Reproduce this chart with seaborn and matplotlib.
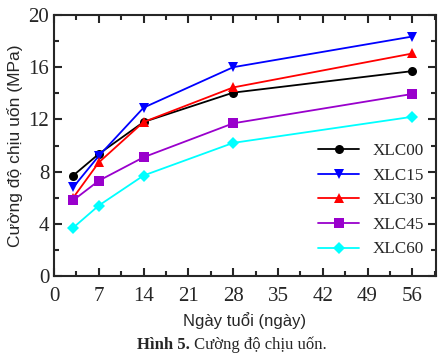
import numpy as np
import pandas as pd
import seaborn as sns
import matplotlib.pyplot as plt
from matplotlib.ticker import MultipleLocator

days = [3, 7, 14, 28, 56]
xlc00 = [7.7, 9.35, 11.8, 14.05, 15.7]
xlc15 = [6.8, 9.2, 12.9, 16.0, 18.35]
xlc30 = [6.0, 8.7, 11.8, 14.45, 17.05]
xlc45 = [5.8, 7.3, 9.1, 11.7, 13.95]
xlc60 = [3.7, 5.4, 7.7, 10.2, 12.2]

names = ['XLC00', 'XLC15', 'XLC30', 'XLC45', 'XLC60']
colors = ['black', '#0000ff', '#ff0000', '#9900cc', '#00ffff']
markers = ['o', 'v', '^', 's', 'D']

df = pd.DataFrame({
    'day': days * 5,
    'val': xlc00 + xlc15 + xlc30 + xlc45 + xlc60,
    'mix': [n for n in names for _ in days],
})

sns.set_style('ticks')
plt.rcParams['font.family'] = ['Liberation Serif', 'DejaVu Serif']

fig = plt.figure(figsize=(4.41, 3.58), dpi=100)
ax = fig.add_axes([54 / 441, 1 - 276 / 358, 382 / 441, 261 / 358])

sns.lineplot(data=df, x='day', y='val', hue='mix', style='mix',
             palette=dict(zip(names, colors)), markers=dict(zip(names, markers)),
             dashes=False, markersize=6.5, markeredgewidth=0, linewidth=1.3, ax=ax)

ax.set_xlim(0, 59.7)
ax.set_ylim(0, 20)
ax.xaxis.set_major_locator(MultipleLocator(7))
ax.xaxis.set_minor_locator(MultipleLocator(3.5))
ax.yaxis.set_major_locator(MultipleLocator(4))
ax.yaxis.set_minor_locator(MultipleLocator(2))
ax.tick_params(which='both', direction='in', top=True, right=True, width=1.5, labelsize=15)
ax.tick_params(which='major', length=6)
ax.tick_params(which='minor', length=3.5)
ax.tick_params(axis='x', pad=8)
for s in ax.spines.values():
    s.set_linewidth(1.5)

sans = ['Liberation Sans Narrow', 'Liberation Sans']
ax.set_xlabel('Ngày tuổi (ngày)', fontsize=12, family=sans, labelpad=4)
ax.set_ylabel('Cường độ chịu uốn (MPa)', fontsize=12.5, family=sans, labelpad=4)

leg = ax.legend(loc='lower right', frameon=False, fontsize=12.3, handlelength=2.4,
                labelspacing=0.5, bbox_to_anchor=(1.01, 0.012))
for h in leg.legend_handles:
    h.set_markersize(6.5)

fig.text(0.43, 0.015, 'Hình 5.', fontsize=12, fontweight='bold', ha='right', va='bottom')
fig.text(0.43, 0.015, ' Cường độ chịu uốn.', fontsize=12, ha='left', va='bottom')

fig.savefig('out.png', dpi=100)
